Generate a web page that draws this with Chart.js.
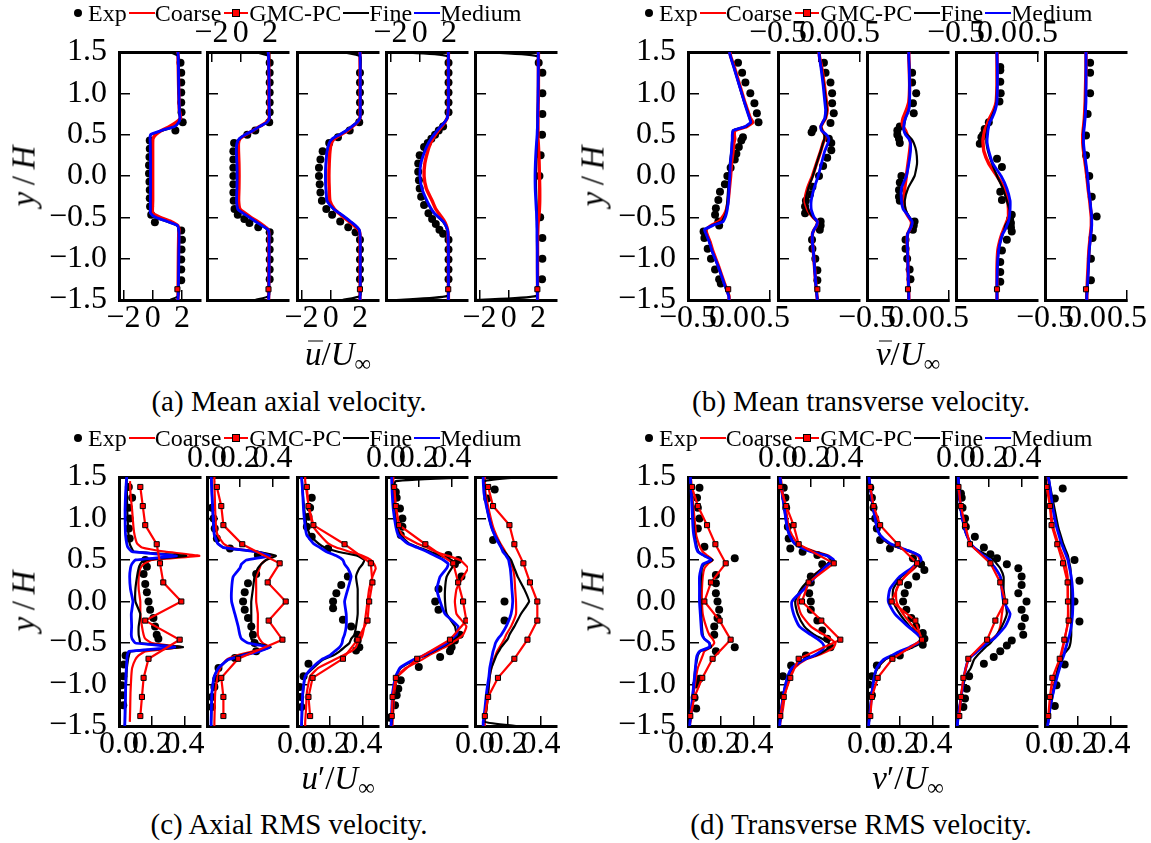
<!DOCTYPE html>
<html>
<head>
<meta charset="utf-8">
<title>Wake profiles</title>
<script src="https://cdn.jsdelivr.net/npm/chart.js@4.4.0/dist/chart.umd.min.js"></script>
<style>
  html, body { margin: 0; padding: 0; background: #fff; }
  body { position: relative; width: 1151px; height: 843px; overflow: hidden;
         font-family: "Liberation Serif", "Times New Roman", serif; color: #000; }
  canvas { position: absolute; }
  .txt { position: absolute; white-space: nowrap; transform: translate(-50%, -50%); line-height: 1; }
  .cap { font-size: 29px; }
  .atitle { font-size: 33px; }
  .atitle sub { font-size: 23px; vertical-align: -6px; }
  .ylab { font-size: 33px; transform: translate(-50%, -50%) rotate(-90deg); }
  .bar { position: relative; display: inline-block; }
  .bar::before { content: ""; position: absolute; left: 3px; right: -1px; top: 3px; border-top: 1.6px solid #000; }
  .legend { position: absolute; height: 26px; display: flex; align-items: center; font-size: 24px; white-space: nowrap; }
  .legend .hdot { width: 8px; height: 8px; border-radius: 50%; background: #000; margin: 0 6px 0 2px; }
  .legend .hline { width: 26px; height: 2.5px; margin: 0 0 0 2px; }
  .legend .hgmc { position: relative; width: 24px; height: 2.5px; background: #f00; margin: 0 1px 0 3px; }
  .legend .hgmc i { position: absolute; left: 8px; top: -3px; width: 6px; height: 6px; background: #f00; border: 1px solid #000; }
</style>
</head>
<body>
<script>
// ---------------------------------------------------------------------------
// Shared coordinates
// ---------------------------------------------------------------------------
const yLine = [-1.5,-1.45,-1.3,-1.1,-0.9,-0.8,-0.7,-0.65,-0.6,-0.55,-0.5,-0.45,-0.4,-0.3,-0.15,0,0.15,0.3,0.4,0.45,0.5,0.55,0.6,0.65,0.7,0.8,0.9,1.1,1.3,1.45,1.5];
const yGmc = [-1.38,-1.15,-0.92,-0.69,-0.46,-0.23,0,0.23,0.46,0.69,0.92,1.15,1.38];
const yGmcWall = [-1.37];
const yTicks = [-1.5,-1,-0.5,0,0.5,1,1.5];
const uMeanTicks = [-2,0,2];
const vMeanTicks = [-0.5,0,0.5];
const rmsTicks = [0,0.2,0.4];
const seriesNames = ['Exp','Coarse','GMC-PC','Fine','Medium'];
const seriesColors = { Exp: '#000000', Coarse: '#ff0000', 'GMC-PC': '#ff0000', Fine: '#000000', Medium: '#0000ff' };

// ---------------------------------------------------------------------------
// (a) mean axial velocity, five stations
// ---------------------------------------------------------------------------
const uMeanMedium = [
  [1.72,1.74,1.76,1.78,1.79,1.8,1.8,1.78,1.7,1.0,0.2,-0.15,-0.16,-0.16,-0.15,-0.15,-0.15,-0.16,-0.17,-0.18,-0.15,0.6,1.5,1.78,1.86,1.82,1.8,1.78,1.76,1.74,1.73],
  [1.91,1.92,1.93,1.94,1.94,1.94,1.94,1.87,1.46,1.01,0.59,0.15,-0.2,-0.28,-0.26,-0.25,-0.26,-0.3,-0.25,-0.1,0.3,0.85,1.3,1.8,1.95,1.95,1.94,1.94,1.92,1.9,1.88],
  [2.0,2.01,2.02,2.02,2.02,2.02,2.0,1.95,1.7,1.35,1.0,0.6,0.2,-0.25,-0.33,-0.36,-0.33,-0.25,-0.1,0.1,0.6,1.07,1.45,1.8,2.0,2.02,2.02,2.02,2.02,2.01,2.0],
  [1.96,1.96,1.96,1.96,1.96,1.95,1.94,1.9,1.78,1.6,1.3,1.0,0.8,0.5,0.15,0.02,0.08,0.35,0.6,0.78,0.98,1.2,1.45,1.7,1.88,1.95,1.96,1.96,1.96,1.96,1.96],
  [1.96,1.96,1.96,1.95,1.95,1.94,1.93,1.93,1.92,1.92,1.91,1.9,1.88,1.85,1.81,1.8,1.82,1.86,1.9,1.92,1.94,1.95,1.97,1.98,1.98,1.99,2.0,2.01,2.02,2.02,2.02]
];
const uMeanFine = [
  [1.2,1.74,1.76,1.78,1.79,1.8,1.8,1.78,1.68,0.95,0.15,-0.14,-0.15,-0.15,-0.14,-0.14,-0.14,-0.15,-0.16,-0.17,-0.12,0.65,1.5,1.78,1.86,1.82,1.8,1.78,1.76,1.74,1.2],
  [1.0,1.92,1.93,1.94,1.94,1.94,1.94,1.86,1.44,1.0,0.58,0.15,-0.2,-0.27,-0.25,-0.24,-0.25,-0.29,-0.24,-0.08,0.32,0.86,1.32,1.8,1.95,1.95,1.94,1.94,1.92,1.9,1.0],
  [0.8,2.01,2.02,2.02,2.02,2.02,2.0,1.94,1.68,1.33,0.98,0.58,0.2,-0.24,-0.32,-0.34,-0.32,-0.24,-0.1,0.12,0.62,1.08,1.46,1.8,2.0,2.02,2.02,2.02,2.02,2.01,0.8],
  [-1.6,1.9,1.96,1.96,1.96,1.95,1.93,1.88,1.76,1.58,1.28,0.98,0.78,0.45,0.12,0.0,0.05,0.3,0.55,0.72,0.92,1.15,1.4,1.68,1.87,1.95,1.96,1.96,1.96,1.9,-1.6],
  [-2.3,1.9,1.96,1.95,1.95,1.94,1.94,1.94,1.94,1.93,1.92,1.92,1.92,1.9,1.87,1.86,1.88,1.9,1.93,1.94,1.95,1.96,1.97,1.98,1.98,1.99,2.0,2.01,2.02,1.95,-2.3]
];
const uMeanCoarse = [
  [1.72,1.73,1.74,1.75,1.76,1.77,1.78,1.8,1.72,1.25,0.5,0.0,-0.02,0.0,0.0,0.0,0.0,0.0,0.0,0.02,0.2,0.6,1.15,1.6,1.9,1.82,1.8,1.77,1.75,1.73,1.72],
  [1.9,1.91,1.92,1.93,1.93,1.93,1.93,1.88,1.55,1.15,0.7,0.3,-0.05,-0.14,-0.12,-0.11,-0.12,-0.15,-0.15,-0.05,0.35,0.85,1.3,1.75,1.95,1.94,1.93,1.93,1.92,1.91,1.9],
  [2.0,2.0,2.01,2.01,2.01,2.01,2.0,1.9,1.6,1.25,0.9,0.55,0.25,-0.05,-0.1,-0.12,-0.1,-0.05,0.05,0.25,0.7,1.15,1.5,1.82,2.0,2.01,2.01,2.01,2.01,2.0,2.0],
  [1.96,1.96,1.96,1.96,1.96,1.95,1.94,1.9,1.82,1.7,1.5,1.3,1.1,0.85,0.45,0.3,0.35,0.55,0.75,0.9,1.08,1.28,1.5,1.72,1.88,1.95,1.96,1.96,1.96,1.96,1.96],
  [1.97,1.97,1.97,1.97,1.97,1.97,1.98,1.99,2.0,2.02,2.05,2.08,2.1,2.12,2.12,2.1,2.08,2.05,2.02,2.0,2.0,2.0,2.0,2.0,2.0,2.01,2.02,2.03,2.03,2.03,2.03]
];
const uMeanGmc = [[1.69],[1.9],[2.0],[1.95],[1.96]];
const uMeanExp = [
  [[1.37,1.9],[1.25,1.95],[1.13,1.95],[1.01,1.95],[0.89,1.95],[0.77,1.97],[0.65,2.05],[0.55,1.55],[0.43,-0.2],[0.33,-0.2],[0.23,-0.22],[0.13,-0.25],[0.03,-0.25],[-0.07,-0.22],[-0.17,-0.2],[-0.27,-0.2],[-0.37,-0.18],[-0.47,-0.1],[-0.56,0.15],[-0.66,1.95],[-0.77,2.0],[-0.89,1.97],[-1.01,1.95],[-1.13,1.95],[-1.26,1.95]],
  [[1.37,1.98],[1.25,1.98],[1.13,1.98],[1.01,1.98],[0.89,1.98],[0.77,1.98],[0.65,1.95],[0.55,1.0],[0.5,0.45],[0.4,-0.45],[0.3,-0.5],[0.2,-0.5],[0.1,-0.5],[0.0,-0.5],[-0.1,-0.5],[-0.2,-0.5],[-0.3,-0.48],[-0.4,-0.42],[-0.47,-0.2],[-0.52,0.25],[-0.57,0.6],[-0.62,1.2],[-0.68,1.98],[-0.77,1.98],[-0.89,1.98],[-1.01,1.98],[-1.13,1.98],[-1.25,1.98]],
  [[1.25,2.0],[1.13,2.0],[1.01,2.0],[0.89,2.0],[0.77,2.0],[0.65,1.95],[0.55,1.3],[0.47,0.5],[0.4,-0.1],[0.3,-0.55],[0.2,-0.7],[0.1,-0.8],[0.0,-0.8],[-0.1,-0.75],[-0.2,-0.7],[-0.3,-0.6],[-0.4,-0.3],[-0.47,0.1],[-0.55,0.65],[-0.62,1.2],[-0.68,1.7],[-0.77,2.0],[-0.89,2.0],[-1.01,2.0],[-1.13,2.0],[-1.25,2.0]],
  [[1.37,1.97],[1.25,1.97],[1.13,1.97],[1.01,1.97],[0.89,1.97],[0.77,1.97],[0.6,1.6],[0.55,1.3],[0.5,1.05],[0.45,0.8],[0.4,0.55],[0.35,0.3],[0.25,0.0],[0.15,-0.1],[0.05,-0.1],[-0.05,-0.05],[-0.15,0.0],[-0.25,0.1],[-0.35,0.3],[-0.45,0.6],[-0.52,0.85],[-0.58,1.1],[-0.65,1.35],[-0.7,1.6],[-0.77,1.97],[-0.89,1.97],[-1.01,1.97],[-1.13,1.97],[-1.25,1.97]],
  [[1.37,2.05],[1.25,2.3],[1.0,2.3],[0.75,2.3],[0.5,2.28],[0.25,2.18],[0.0,2.1],[-0.5,2.15],[-0.75,2.3],[-1.0,2.3],[-1.25,2.28]]
];

// ---------------------------------------------------------------------------
// (b) mean transverse velocity
// ---------------------------------------------------------------------------
const vMeanMedium = [
  [0.0,-0.004,-0.06,-0.13,-0.21,-0.24,-0.28,-0.3,-0.2,-0.07,-0.045,-0.03,-0.02,-0.008,0.0,0.01,0.016,0.03,0.037,0.04,0.04,0.05,0.2,0.264,0.25,0.216,0.185,0.124,0.063,0.016,0.005],
  [-0.02,-0.025,-0.04,-0.055,-0.07,-0.08,-0.08,-0.06,-0.03,-0.02,-0.06,-0.08,-0.095,-0.095,-0.06,-0.01,0.03,0.07,0.11,0.12,0.09,0.03,0.02,0.045,0.07,0.08,0.07,0.05,0.025,0.003,0.0],
  [0.01,0.01,0.005,0.0,-0.005,-0.01,-0.005,0.02,0.045,0.05,0.015,-0.02,-0.06,-0.08,-0.08,-0.02,0.01,0.03,0.03,0.01,-0.03,-0.05,-0.05,-0.045,-0.03,0.01,0.02,0.02,0.015,0.01,0.01],
  [0.0,0.0,0.0,0.005,0.02,0.04,0.07,0.1,0.12,0.14,0.15,0.155,0.16,0.16,0.12,0.05,-0.05,-0.1,-0.12,-0.12,-0.115,-0.11,-0.1,-0.09,-0.06,-0.02,0.0,0.005,0.005,0.0,0.0],
  [0.01,0.01,0.02,0.03,0.04,0.05,0.06,0.065,0.07,0.07,0.07,0.065,0.06,0.05,0.03,0.02,0.0,-0.02,-0.03,-0.03,-0.03,-0.025,-0.02,-0.015,-0.01,-0.005,0.0,0.0,0.0,0.0,0.0]
];
const vMeanFine = [
  [0.0,0.0,-0.06,-0.13,-0.21,-0.24,-0.28,-0.29,-0.21,-0.09,-0.06,-0.04,-0.03,-0.02,-0.01,0.0,0.01,0.03,0.035,0.04,0.04,0.05,0.21,0.27,0.25,0.22,0.185,0.125,0.065,0.018,0.005],
  [-0.02,-0.025,-0.04,-0.055,-0.07,-0.08,-0.08,-0.06,-0.03,-0.025,-0.07,-0.11,-0.13,-0.16,-0.13,-0.075,-0.03,0.02,0.05,0.065,0.065,0.04,0.025,0.05,0.08,0.095,0.085,0.06,0.03,0.005,0.0],
  [0.01,0.01,0.005,0.0,-0.005,-0.01,-0.005,0.02,0.04,0.05,0.02,-0.01,-0.03,-0.04,0.0,0.08,0.11,0.1,0.07,0.04,-0.01,-0.05,-0.05,-0.04,-0.03,0.01,0.02,0.02,0.015,0.01,0.01],
  [0.0,0.0,0.0,0.005,0.02,0.04,0.07,0.09,0.1,0.13,0.16,0.16,0.15,0.12,0.07,0.0,-0.06,-0.11,-0.13,-0.13,-0.13,-0.12,-0.11,-0.09,-0.07,-0.03,-0.005,0.0,0.0,0.0,0.0],
  [0.01,0.01,0.02,0.03,0.04,0.05,0.06,0.065,0.068,0.07,0.07,0.065,0.06,0.05,0.03,0.015,-0.005,-0.025,-0.035,-0.035,-0.035,-0.03,-0.025,-0.02,-0.015,-0.01,-0.005,0.0,0.0,0.0,0.0]
];
const vMeanCoarse = [
  [0.0,0.0,-0.055,-0.125,-0.2,-0.23,-0.27,-0.28,-0.22,-0.12,-0.08,-0.05,-0.03,-0.01,0.005,0.02,0.03,0.05,0.06,0.07,0.065,0.07,0.22,0.29,0.26,0.225,0.19,0.13,0.07,0.02,0.01],
  [-0.02,-0.025,-0.04,-0.055,-0.07,-0.08,-0.08,-0.06,-0.03,-0.02,-0.07,-0.11,-0.14,-0.17,-0.14,-0.08,-0.03,0.02,0.05,0.07,0.07,0.04,0.025,0.05,0.08,0.1,0.09,0.065,0.035,0.005,0.0],
  [0.01,0.01,0.005,0.0,-0.005,-0.01,-0.005,0.02,0.04,0.04,0.01,-0.02,-0.04,-0.05,-0.04,-0.02,0.0,0.02,0.03,0.02,-0.01,-0.03,-0.06,-0.07,-0.06,-0.02,0.01,0.02,0.015,0.01,0.01],
  [0.0,0.0,0.0,0.0,0.01,0.03,0.06,0.08,0.1,0.12,0.14,0.14,0.14,0.13,0.09,0.0,-0.1,-0.16,-0.17,-0.17,-0.16,-0.15,-0.13,-0.11,-0.09,-0.04,-0.01,0.0,0.0,0.0,0.0],
  [0.01,0.01,0.015,0.025,0.035,0.045,0.055,0.06,0.065,0.065,0.065,0.06,0.055,0.045,0.025,0.01,-0.01,-0.03,-0.04,-0.04,-0.04,-0.035,-0.03,-0.025,-0.02,-0.015,-0.01,-0.005,0.0,0.0,0.0]
];
const vMeanGmc = [[-0.01],[-0.02],[0.0],[0.0],[0.0]];
const vMeanExp = [
  [[1.37,0.11],[1.25,0.16],[1.13,0.2],[1.0,0.26],[0.88,0.31],[0.76,0.34],[0.65,0.36],[0.47,0.17],[0.43,0.15],[0.35,0.12],[0.27,0.09],[0.2,0.07],[0.1,0.02],[0.0,-0.02],[-0.1,-0.05],[-0.19,-0.11],[-0.29,-0.13],[-0.39,-0.16],[-0.47,-0.17],[-0.55,-0.13],[-0.6,-0.12],[-0.67,-0.31],[-0.75,-0.3],[-0.88,-0.26],[-1.0,-0.22],[-1.13,-0.17],[-1.25,-0.12],[-1.3,-0.1]],
  [[1.37,0.06],[1.25,0.08],[1.13,0.14],[1.0,0.16],[0.88,0.16],[0.76,0.18],[0.64,0.14],[0.57,-0.07],[0.53,-0.09],[0.45,0.12],[0.4,0.15],[0.31,0.15],[0.22,0.1],[0.12,0.05],[0.0,0.0],[-0.13,-0.08],[-0.22,-0.11],[-0.3,-0.16],[-0.37,-0.17],[-0.45,-0.17],[-0.55,0.02],[-0.6,0.02],[-0.65,0.01],[-0.77,-0.085],[-0.88,-0.08],[-1.0,-0.045],[-1.14,-0.02],[-1.26,-0.02]],
  [[1.25,0.05],[1.13,0.05],[1.0,0.1],[0.88,0.06],[0.76,0.07],[0.6,-0.1],[0.55,-0.13],[0.5,-0.13],[0.45,-0.11],[0.4,-0.1],[0.0,-0.08],[-0.08,-0.1],[-0.17,-0.11],[-0.25,-0.11],[-0.3,-0.1],[-0.55,0.08],[-0.6,0.07],[-0.65,0.06],[-0.77,-0.03],[-0.88,-0.03],[-1.0,-0.01],[-1.13,0.02],[-1.25,0.03]],
  [[1.32,0.04],[1.28,0.04],[1.14,0.04],[1.0,0.045],[0.9,0.03],[0.65,-0.1],[0.57,-0.15],[0.5,-0.17],[0.47,-0.19],[0.39,-0.21],[0.21,0.0],[0.11,0.06],[-0.19,0.04],[-0.29,0.06],[-0.47,0.18],[-0.52,0.16],[-0.57,0.17],[-0.62,0.17],[-0.67,0.18],[-0.77,0.12],[-0.9,0.06],[-1.04,0.04],[-1.16,0.04],[-1.28,0.04]],
  [[1.37,0.05],[1.25,0.05],[1.0,0.05],[0.75,0.02],[0.49,0.0],[0.25,0.0],[0.0,0.04],[-0.25,0.07],[-0.49,0.13],[-0.75,0.08],[-1.0,0.06],[-1.26,0.06]]
];

// ---------------------------------------------------------------------------
// (c) axial RMS velocity
// ---------------------------------------------------------------------------
const uRmsMedium = [
  [0.035,0.036,0.037,0.04,0.042,0.045,0.048,0.05,0.06,0.34,0.1,0.08,0.075,0.077,0.075,0.085,0.07,0.065,0.07,0.078,0.1,0.35,0.08,0.055,0.047,0.04,0.038,0.037,0.04,0.045,0.047],
  [0.025,0.025,0.027,0.03,0.045,0.07,0.13,0.22,0.32,0.38,0.25,0.21,0.2,0.19,0.17,0.15,0.15,0.16,0.2,0.21,0.24,0.38,0.3,0.1,0.065,0.045,0.04,0.035,0.03,0.027,0.026],
  [0.027,0.028,0.03,0.035,0.05,0.09,0.15,0.2,0.23,0.26,0.275,0.28,0.29,0.3,0.3,0.29,0.31,0.33,0.31,0.29,0.28,0.24,0.18,0.14,0.1,0.06,0.05,0.04,0.035,0.03,0.027],
  [0.03,0.032,0.035,0.04,0.06,0.085,0.17,0.23,0.28,0.33,0.37,0.4,0.43,0.44,0.36,0.33,0.31,0.33,0.37,0.38,0.35,0.3,0.25,0.19,0.13,0.075,0.06,0.045,0.038,0.035,0.035],
  [0.05,0.05,0.06,0.07,0.085,0.09,0.1,0.105,0.11,0.118,0.125,0.14,0.16,0.19,0.22,0.23,0.225,0.22,0.215,0.21,0.205,0.19,0.17,0.16,0.145,0.12,0.1,0.075,0.055,0.05,0.05]
];
const uRmsFine = [
  [0.035,0.036,0.038,0.04,0.045,0.048,0.055,0.06,0.07,0.39,0.13,0.125,0.12,0.12,0.13,0.1,0.1,0.11,0.12,0.13,0.15,0.41,0.09,0.075,0.065,0.058,0.055,0.05,0.048,0.047,0.047],
  [0.025,0.025,0.027,0.03,0.045,0.07,0.13,0.2,0.3,0.39,0.3,0.27,0.27,0.27,0.27,0.27,0.28,0.29,0.31,0.33,0.36,0.42,0.3,0.1,0.065,0.045,0.04,0.035,0.03,0.027,0.026],
  [0.03,0.03,0.032,0.037,0.05,0.1,0.16,0.22,0.26,0.29,0.32,0.33,0.35,0.36,0.37,0.37,0.37,0.36,0.38,0.4,0.41,0.37,0.25,0.17,0.13,0.08,0.06,0.045,0.035,0.03,0.03],
  [0.03,0.035,0.04,0.045,0.06,0.09,0.18,0.24,0.29,0.34,0.38,0.41,0.43,0.42,0.37,0.36,0.36,0.37,0.4,0.42,0.4,0.33,0.27,0.2,0.14,0.085,0.065,0.05,0.045,0.06,0.55],
  [0.25,0.06,0.07,0.08,0.09,0.1,0.12,0.13,0.145,0.16,0.18,0.2,0.21,0.24,0.28,0.33,0.3,0.26,0.24,0.23,0.22,0.2,0.18,0.16,0.15,0.12,0.1,0.075,0.06,0.055,0.28]
];
const uRmsCoarse = [
  [null,0.066,0.068,0.07,0.075,0.08,0.1,0.12,0.16,0.38,0.2,0.16,0.15,0.14,0.13,0.13,0.12,0.12,0.13,0.15,0.2,0.49,0.28,0.14,0.11,0.095,0.088,0.08,0.07,0.067,null],
  [0.045,0.045,0.047,0.05,0.065,0.08,0.12,0.18,0.28,0.38,0.34,0.32,0.31,0.31,0.31,0.3,0.3,0.3,0.32,0.33,0.36,0.4,0.3,0.14,0.1,0.065,0.055,0.05,0.047,0.045,0.045],
  [0.05,0.05,0.055,0.06,0.08,0.13,0.23,0.28,0.33,0.36,0.37,0.39,0.4,0.41,0.42,0.43,0.44,0.46,0.48,0.47,0.45,0.4,0.32,0.24,0.19,0.14,0.1,0.075,0.06,0.05,0.05],
  [0.04,0.04,0.045,0.05,0.07,0.12,0.22,0.26,0.31,0.36,0.4,0.44,0.47,0.49,0.43,0.42,0.43,0.47,0.5,0.48,0.45,0.38,0.3,0.25,0.19,0.1,0.07,0.055,0.05,0.045,0.045],
  [0.06,0.06,0.07,0.08,0.09,0.1,0.115,0.125,0.135,0.15,0.165,0.18,0.19,0.22,0.25,0.25,0.245,0.24,0.23,0.22,0.215,0.2,0.185,0.17,0.155,0.13,0.11,0.085,0.065,0.06,0.06]
];
const uRmsGmc = [
  [0.13,0.14,0.15,0.18,0.37,0.16,0.38,0.27,0.25,0.23,0.16,0.145,0.13],
  [0.1,0.1,0.087,0.19,0.46,0.376,0.48,0.37,0.443,0.215,0.1,0.087,0.06],
  [0.08,0.07,0.095,0.28,0.37,0.43,0.44,0.46,0.45,0.29,0.1,0.07,0.06],
  [0.035,0.04,0.06,0.19,0.39,0.49,0.47,0.44,0.41,0.24,0.08,0.06,0.05],
  [0.06,0.08,0.14,0.24,0.32,0.38,0.38,0.335,0.295,0.24,0.21,0.11,0.08]
];
const uRmsExp = [
  [[1.38,0.06],[1.25,0.08],[1.13,0.06],[1.0,0.065],[0.88,0.06],[0.76,0.065],[0.5,0.16],[0.42,0.17],[0.33,0.15],[0.21,0.16],[0.11,0.17],[0.0,0.18],[-0.1,0.19],[-0.2,0.21],[-0.3,0.22],[-0.4,0.23],[-0.45,0.24],[-0.65,0.04],[-0.76,0.03],[-0.9,0.026],[-1.01,0.016],[-1.13,0.02],[-1.25,0.026]],
  [[1.13,0.03],[1.0,0.04],[0.88,0.047],[0.76,0.06],[0.64,0.14],[0.56,0.31],[0.33,0.3],[0.22,0.25],[0.11,0.23],[0.0,0.22],[-0.1,0.23],[-0.2,0.25],[-0.3,0.27],[-0.4,0.28],[-0.5,0.29],[-0.6,0.3],[-0.68,0.17],[-0.8,0.07],[-0.93,0.057],[-1.03,0.045],[-1.15,0.03],[-1.27,0.03]],
  [[1.25,0.09],[1.13,0.08],[1.02,0.07],[0.9,0.06],[0.78,0.09],[0.64,0.19],[0.3,0.31],[0.2,0.27],[0.1,0.24],[0.0,0.22],[-0.08,0.22],[-0.22,0.28],[-0.3,0.33],[-0.4,0.37],[-0.47,0.37],[-0.55,0.38],[-0.59,0.36],[-0.75,0.07],[-0.9,0.04],[-1.03,0.016],[-1.15,0.02],[-1.27,0.027]],
  [[1.32,0.06],[1.25,0.065],[1.12,0.085],[1.0,0.1],[0.9,0.1],[0.8,0.09],[0.56,0.38],[0.5,0.44],[0.45,0.42],[0.3,0.46],[0.15,0.32],[0.0,0.3],[-0.1,0.32],[-0.4,0.45],[-0.47,0.42],[-0.55,0.4],[-0.6,0.39],[-0.67,0.33],[-0.79,0.2],[-0.95,0.09],[-1.05,0.075],[-1.13,0.065],[-1.25,0.055],[-1.4,0.02]],
  [[1.35,0.12],[1.24,0.075],[0.74,0.11],[0.0,0.18],[-0.23,0.18]]
];

// ---------------------------------------------------------------------------
// (d) transverse RMS velocity
// ---------------------------------------------------------------------------
const vRmsMedium = [
  [0.01,0.012,0.02,0.03,0.04,0.045,0.05,0.055,0.07,0.13,0.13,0.1,0.085,0.08,0.075,0.07,0.07,0.07,0.08,0.09,0.14,0.1,0.06,0.05,0.045,0.035,0.03,0.025,0.02,0.015,0.015],
  [0.01,0.012,0.02,0.035,0.06,0.085,0.16,0.22,0.26,0.28,0.27,0.24,0.2,0.13,0.095,0.085,0.16,0.23,0.28,0.31,0.34,0.3,0.2,0.14,0.1,0.07,0.055,0.04,0.025,0.015,0.012],
  [0.01,0.012,0.02,0.03,0.045,0.06,0.1,0.15,0.2,0.26,0.31,0.33,0.31,0.25,0.17,0.13,0.14,0.2,0.27,0.3,0.33,0.32,0.27,0.2,0.14,0.08,0.06,0.04,0.025,0.015,0.012],
  [0.008,0.01,0.02,0.035,0.05,0.06,0.075,0.1,0.13,0.16,0.19,0.23,0.255,0.3,0.33,0.29,0.28,0.27,0.24,0.22,0.21,0.17,0.14,0.11,0.09,0.065,0.05,0.03,0.02,0.015,0.014],
  [0.015,0.02,0.03,0.05,0.075,0.09,0.105,0.115,0.12,0.128,0.135,0.142,0.15,0.16,0.168,0.17,0.168,0.16,0.15,0.145,0.14,0.13,0.12,0.11,0.1,0.085,0.07,0.05,0.035,0.025,0.02]
];
const vRmsFine = [
  [0.01,0.012,0.02,0.03,0.04,0.045,0.055,0.06,0.075,0.14,0.13,0.1,0.09,0.085,0.08,0.075,0.075,0.08,0.085,0.1,0.15,0.1,0.065,0.055,0.05,0.04,0.035,0.028,0.022,0.016,0.015],
  [0.01,0.012,0.02,0.035,0.06,0.09,0.16,0.23,0.28,0.31,0.31,0.27,0.22,0.16,0.12,0.105,0.14,0.21,0.27,0.3,0.32,0.3,0.22,0.15,0.1,0.07,0.055,0.04,0.025,0.015,0.012],
  [0.01,0.012,0.02,0.03,0.045,0.065,0.11,0.16,0.22,0.28,0.33,0.33,0.31,0.26,0.2,0.16,0.16,0.21,0.28,0.31,0.33,0.32,0.27,0.19,0.13,0.08,0.06,0.04,0.025,0.015,0.012],
  [0.008,0.01,0.02,0.035,0.06,0.09,0.11,0.13,0.155,0.18,0.21,0.23,0.25,0.28,0.31,0.3,0.29,0.29,0.27,0.25,0.23,0.2,0.15,0.11,0.09,0.065,0.05,0.03,0.02,0.015,0.014],
  [0.015,0.02,0.03,0.05,0.07,0.08,0.095,0.11,0.13,0.148,0.155,0.158,0.16,0.16,0.16,0.16,0.16,0.158,0.155,0.15,0.145,0.14,0.13,0.12,0.11,0.095,0.08,0.06,0.04,0.025,0.02]
];
const vRmsCoarse = [
  [0.01,0.015,0.025,0.035,0.05,0.06,0.08,0.09,0.1,0.14,0.16,0.15,0.13,0.11,0.09,0.085,0.085,0.09,0.1,0.12,0.15,0.12,0.09,0.075,0.065,0.05,0.045,0.035,0.025,0.02,0.015],
  [0.012,0.015,0.03,0.045,0.07,0.1,0.17,0.24,0.3,0.34,0.35,0.32,0.28,0.2,0.14,0.12,0.15,0.21,0.27,0.3,0.33,0.31,0.23,0.16,0.12,0.085,0.065,0.05,0.03,0.02,0.015],
  [0.01,0.012,0.02,0.03,0.045,0.065,0.11,0.16,0.21,0.27,0.32,0.33,0.32,0.28,0.22,0.18,0.18,0.23,0.29,0.31,0.32,0.31,0.26,0.19,0.13,0.08,0.06,0.04,0.025,0.015,0.012],
  [0.008,0.01,0.02,0.035,0.05,0.06,0.075,0.1,0.13,0.16,0.19,0.22,0.25,0.27,0.28,0.29,0.28,0.27,0.24,0.22,0.2,0.17,0.14,0.11,0.09,0.065,0.05,0.03,0.02,0.015,0.014],
  [0.015,0.02,0.03,0.045,0.065,0.08,0.09,0.1,0.105,0.11,0.115,0.12,0.125,0.135,0.14,0.14,0.14,0.138,0.13,0.125,0.12,0.11,0.1,0.09,0.08,0.065,0.05,0.035,0.025,0.02,0.015]
];
const vRmsGmc = [
  [0.014,0.04,0.087,0.15,0.26,0.193,0.1,0.14,0.23,0.167,0.116,0.06,0.024],
  [0.014,0.035,0.075,0.126,0.38,0.264,0.146,0.187,0.34,0.126,0.095,0.05,0.014],
  [0.02,0.03,0.065,0.155,0.335,0.295,0.15,0.2,0.305,0.187,0.08,0.04,0.02],
  [0.02,0.03,0.045,0.075,0.19,0.24,0.3,0.27,0.21,0.085,0.055,0.03,0.015],
  [0.02,0.03,0.045,0.09,0.118,0.144,0.14,0.138,0.11,0.075,0.04,0.03,0.01]
];
const vRmsExp = [
  [[1.37,0.07],[1.25,0.055],[1.13,0.06],[1.0,0.07],[0.88,0.06],[0.66,0.1],[0.52,0.285],[0.32,0.17],[0.22,0.17],[0.1,0.17],[0.0,0.18],[-0.1,0.19],[-0.2,0.18],[-0.3,0.16],[-0.4,0.16],[-0.55,0.285],[-0.6,0.17],[-0.93,0.07],[-1.0,0.05],[-1.16,0.04],[-1.29,0.05]],
  [[1.37,0.035],[1.25,0.045],[1.13,0.05],[0.9,0.06],[0.76,0.065],[0.64,0.075],[0.6,0.15],[0.56,0.24],[0.45,0.27],[0.3,0.2],[0.23,0.2],[0.1,0.19],[0.0,0.2],[-0.1,0.2],[-0.23,0.24],[-0.35,0.27],[-0.45,0.3],[-0.55,0.32],[-0.65,0.17],[-0.77,0.08],[-0.9,0.03],[-1.13,0.025]],
  [[1.37,0.02],[1.25,0.03],[1.13,0.04],[1.0,0.05],[0.88,0.06],[0.74,0.08],[0.64,0.14],[0.52,0.28],[0.45,0.33],[0.38,0.35],[0.3,0.3],[0.2,0.25],[0.1,0.23],[0.0,0.22],[-0.1,0.24],[-0.2,0.27],[-0.3,0.3],[-0.38,0.34],[-0.45,0.35],[-0.52,0.34],[-0.65,0.2],[-0.77,0.06],[-0.9,0.03],[-1.0,0.01],[-1.13,0.03]],
  [[1.3,0.03],[1.25,0.035],[1.13,0.04],[1.0,0.055],[0.9,0.06],[0.78,0.115],[0.65,0.17],[0.57,0.21],[0.52,0.25],[0.45,0.31],[0.4,0.38],[0.3,0.4],[0.2,0.4],[0.1,0.38],[0.0,0.43],[-0.1,0.4],[-0.2,0.42],[-0.3,0.4],[-0.4,0.41],[-0.47,0.34],[-0.53,0.31],[-0.6,0.27],[-0.67,0.23],[-0.75,0.17],[-0.9,0.08],[-1.05,0.065],[-1.17,0.055],[-1.27,0.045]],
  [[1.36,0.108],[1.24,0.06],[0.5,0.18],[0.25,0.21],[0.0,0.18],[-0.24,0.21],[-0.76,0.12],[-1.01,0.07],[-1.26,0.06]]
];

// ---------------------------------------------------------------------------
// Layout of the four sub-figures (plot boxes in page pixels)
// ---------------------------------------------------------------------------
const leftCols = [119, 207, 297, 386, 475];
const rightCols = [688, 778, 867, 956, 1045];
const plotW = 82;
const serifFamily = "'Liberation Serif', 'Times New Roman', serif";

const minus = s => s.replace('-', '\u2212');
const fmtInt = v => minus(String(v));
const fmtOne = v => minus((Math.abs(v) < 1e-9 ? 0 : v).toFixed(1));

const panels = [
  { cols: leftCols,  top: 52,  h: 248, xMin: -2.3, xMax: 3.3, xt: uMeanTicks, fmt: fmtInt, tension: 0.2,
    medium: uMeanMedium, fine: uMeanFine, coarse: uMeanCoarse, gmc: uMeanGmc, gmcY: yGmcWall, exp: uMeanExp, coarseW: 3.4 },
  { cols: rightCols, top: 52,  h: 248, xMin: -0.5, xMax: 0.5, xt: vMeanTicks, fmt: fmtOne, tension: 0.15,
    medium: vMeanMedium, fine: vMeanFine, coarse: vMeanCoarse, gmc: vMeanGmc, gmcY: yGmcWall, exp: vMeanExp, coarseW: 3.4 },
  { cols: leftCols,  top: 477, h: 249, xMin: 0, xMax: 0.5, xt: rmsTicks, fmt: fmtOne, tension: 0.12,
    medium: uRmsMedium, fine: uRmsFine, coarse: uRmsCoarse, gmc: uRmsGmc, gmcY: yGmc, exp: uRmsExp, coarseW: 2.2 },
  { cols: rightCols, top: 477, h: 249, xMin: 0, xMax: 0.5, xt: rmsTicks, fmt: fmtOne, tension: 0.2,
    medium: vRmsMedium, fine: vRmsFine, coarse: vRmsCoarse, gmc: vRmsGmc, gmcY: yGmc, exp: vRmsExp, coarseW: 2.2 }
];

Chart.defaults.font.family = serifFamily;
Chart.defaults.color = '#000';

function profile(vals, ys) {
  return ys.map((y, i) => ({ x: vals[i], y: y }));
}

function makeSubplot(p, k) {
  const S = p.cols[k];
  const L = k === 0 ? 130 : 60;
  const T = 58, B = 52, R = 48;
  const cw = L + plotW + R, ch = T + p.h + B;
  const cv = document.createElement('canvas');
  cv.width = cw; cv.height = ch;
  cv.style.left = (S - L) + 'px';
  cv.style.top = (p.top - T) + 'px';
  cv.style.width = cw + 'px';
  cv.style.height = ch + 'px';
  document.body.appendChild(cv);

  const labelsBottom = (k % 2 === 0);
  const tickFont = { family: serifFamily, size: 32 };
  const xAxis = (pos, shown) => ({
    type: 'linear', position: pos, min: p.xMin, max: p.xMax,
    afterBuildTicks: s => { s.ticks = p.xt.map(v => ({ value: v })); },
    afterFit: s => { s.height = pos === 'top' ? T : B; s.paddingLeft = 0; s.paddingRight = 0; },
    border: { display: true, color: '#000', width: 3 },
    grid: { drawOnChartArea: false, drawTicks: shown, tickLength: -10, color: '#000', lineWidth: 1.5 },
    ticks: { display: shown, autoSkip: false, maxRotation: 0, minRotation: 0, padding: 9,
             color: '#000', font: tickFont, callback: v => p.fmt(v) }
  });

  const datasets = [
    { label: 'GMC-PC', data: profile(p.gmc[k], p.gmcY), showLine: true, tension: 0,
      borderColor: seriesColors['GMC-PC'], borderWidth: 2.2, pointStyle: 'rect', pointRadius: 3.6,
      pointBackgroundColor: '#ff0000', pointBorderColor: '#000', pointBorderWidth: 1 },
    { label: 'Medium', data: profile(p.medium[k], yLine), showLine: true, tension: p.tension,
      borderColor: seriesColors.Medium, borderWidth: 2.8, pointRadius: 0 },
    { label: 'Fine', data: profile(p.fine[k], yLine), showLine: true, tension: p.tension,
      borderColor: seriesColors.Fine, borderWidth: 2.2, pointRadius: 0 },
    { label: 'Coarse', data: profile(p.coarse[k], yLine), showLine: true, tension: p.tension,
      borderColor: seriesColors.Coarse, borderWidth: p.coarseW, pointRadius: 0 },
    { label: 'Exp', data: p.exp[k].map(([y, x]) => ({ x: x, y: y })), showLine: false,
      pointRadius: 4, pointBackgroundColor: '#000', pointBorderWidth: 0 }
  ];

  new Chart(cv, {
    type: 'scatter',
    data: { datasets },
    options: {
      responsive: false, animation: false, devicePixelRatio: 1,
      layout: { padding: { left: 0, right: R, top: 0, bottom: 0 }, autoPadding: false },
      plugins: { legend: { display: false }, tooltip: { enabled: false } },
      events: [],
      scales: {
        x: xAxis('bottom', labelsBottom),
        x2: xAxis('top', !labelsBottom),
        y: {
          type: 'linear', position: 'left', min: -1.5, max: 1.5,
          afterBuildTicks: s => { s.ticks = yTicks.map(v => ({ value: v })); },
          afterFit: s => { s.width = L; },
          border: { display: true, color: '#000', width: 3 },
          grid: { drawOnChartArea: false, drawTicks: true, tickLength: -11, color: '#000', lineWidth: 1.5 },
          ticks: { display: k === 0, autoSkip: false, padding: 23, color: '#000', font: tickFont,
                   callback: v => fmtOne(v) }
        }
      }
    }
  });
}

panels.forEach(p => { for (let k = 0; k < 5; k++) makeSubplot(p, k); });

// ---------------------------------------------------------------------------
// Legends, axis titles and captions
// ---------------------------------------------------------------------------
function addLegend(left, top) {
  const d = document.createElement('div');
  d.className = 'legend';
  d.style.left = left + 'px';
  d.style.top = top + 'px';
  seriesNames.forEach(name => {
    let h;
    if (name === 'Exp') { h = '<span class="hdot"></span>'; }
    else if (name === 'GMC-PC') { h = '<span class="hgmc"><i></i></span>'; }
    else { h = '<span class="hline" style="background:' + seriesColors[name] + '"></span>'; }
    d.insertAdjacentHTML('beforeend', h + '<span>' + name + '</span>');
  });
  document.body.appendChild(d);
}
addLegend(72, 0);
addLegend(643, 0);
addLegend(72, 425);
addLegend(643, 425);

function addText(cls, x, y, html) {
  const d = document.createElement('div');
  d.className = 'txt ' + cls;
  d.style.left = x + 'px';
  d.style.top = y + 'px';
  d.innerHTML = html;
  document.body.appendChild(d);
}
const yLab = '<i>y</i>\u2009/\u2009<i>H</i>';
addText('ylab', 24, 176, yLab);
addText('ylab', 593, 176, yLab);
addText('ylab', 24, 601, yLab);
addText('ylab', 593, 601, yLab);

addText('atitle', 338, 356, '<span class="bar"><i>u</i></span>/<i>U</i><sub>\u221e</sub>');
addText('atitle', 908, 356, '<span class="bar"><i>v</i></span>/<i>U</i><sub>\u221e</sub>');
addText('atitle', 338, 780, '<i>u</i>\u2032/<i>U</i><sub>\u221e</sub>');
addText('atitle', 908, 780, '<i>v</i>\u2032/<i>U</i><sub>\u221e</sub>');

addText('cap', 289, 401, '(a) Mean axial velocity.');
addText('cap', 861, 401, '(b) Mean transverse velocity.');
addText('cap', 289, 824, '(c) Axial RMS velocity.');
addText('cap', 861, 824, '(d) Transverse RMS velocity.');
</script>
</body>
</html>
